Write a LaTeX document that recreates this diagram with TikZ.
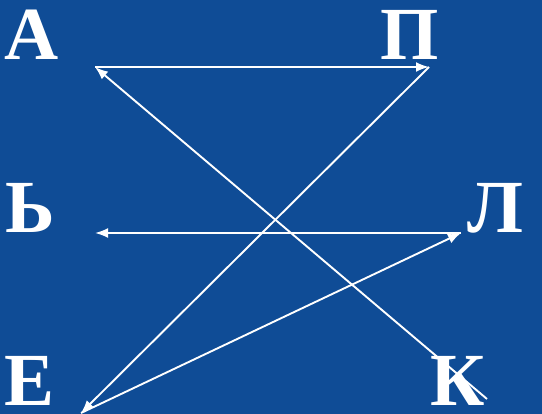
\documentclass[tikz,border=0pt]{standalone}
\usepackage{fontspec}
\setmainfont{Liberation Serif}
\usetikzlibrary{arrows.meta, positioning}
\definecolor{slideBlue}{HTML}{0F4C96}
\definecolor{slideText}{HTML}{FFFFFF}

\begin{document}
\begin{tikzpicture}[x=1pt, y=-1pt,
    letra/.style={inner sep=0pt, anchor=base, text=slideText,
      font=\fontsize{75}{75}\selectfont\bfseries},
    flecha/.style={-{Latex[length=13pt, width=10pt]}, line width=1.9pt, slideText}]
    \fill[slideBlue] (0,0) rectangle (542,414);
    \useasboundingbox (0,0) rectangle (542,414);
    % letras
    \node[letra] (la) at (32,60) {А};
    \node[letra] (lp) at (410,60) {П};
    \node[letra] (lmz) at (30,233) {Ь};
    \node[letra] (ll) at (495,233) {Л};
    \node[letra] (le) at (30,406) {Е};
    \node[letra] (lk) at (458,406) {К};
    % puntos de las flechas
    \coordinate (pa) at (95,67);
    \coordinate (pp) at (429,67);
    \coordinate (pmz) at (95,233);
    \coordinate (pl) at (461,233);
    \coordinate (pe) at (81,413);
    \coordinate (pk) at (487,399);
    \draw[flecha] (pa) -- (pp);
    \draw[flecha] (pp) -- (pe);
    \draw[flecha] (pe) -- (pl);
    \draw[flecha] (pl) -- (pmz);
    \draw[flecha] (pk) -- (pa);
  \end{tikzpicture}
\end{document}
